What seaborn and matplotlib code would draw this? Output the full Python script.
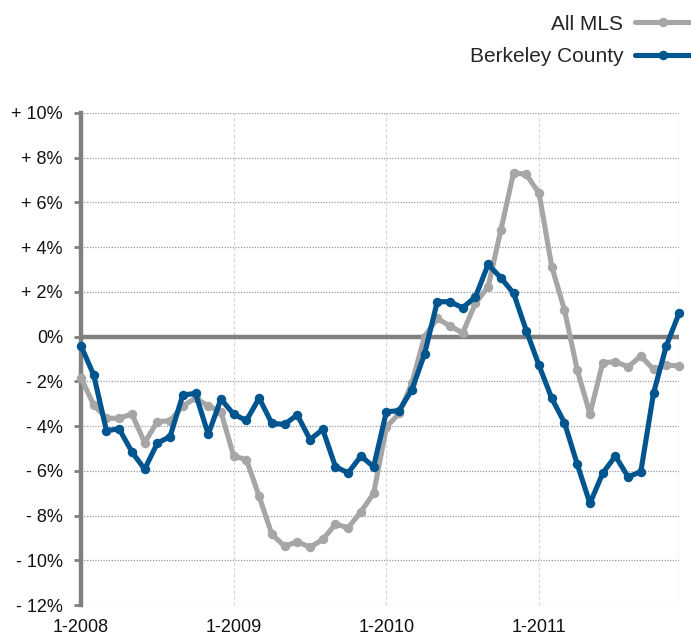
import matplotlib
matplotlib.use("Agg")
import matplotlib.pyplot as plt
import seaborn as sns
import pandas as pd
import numpy as np

# ---- data ----
tick_months = [0, 12, 24, 36]
tick_labels_x = ["1-2008", "1-2009", "1-2010", "1-2011"]
y_ticks = [10, 8, 6, 4, 2, 0, -2, -4, -6, -8, -10, -12]
y_tick_labels = ["+ 10%", "+ 8%", "+ 6%", "+ 4%", "+ 2%", "0%",
                 "- 2%", "- 4%", "- 6%", "- 8%", "- 10%", "- 12%"]
series_names = ["All MLS", "Berkeley County"]

all_mls = [-1.84, -3.06, -3.65, -3.65, -3.46, -4.74, -3.80, -3.76, -3.10, -2.75, -3.10, -3.36,
           -5.34, -5.50, -7.14, -8.84, -9.37, -9.17, -9.42, -9.07, -8.38, -8.55, -7.83, -7.01,
           -4.05, -3.43, -2.09, 0.00, 0.82, 0.47, 0.17, 1.49, 2.23, 4.77, 7.33, 7.25,
           6.41, 3.13, 1.19, -1.49, -3.46, -1.17, -1.12, -1.35, -0.87, -1.46, -1.27, -1.31]
berkeley = [-0.41, -1.72, -4.20, -4.13, -5.15, -5.93, -4.76, -4.47, -2.61, -2.54, -4.37, -2.79,
            -3.47, -3.75, -2.75, -3.88, -3.92, -3.50, -4.60, -4.15, -5.82, -6.09, -5.34, -5.82,
            -3.36, -3.31, -2.38, -0.78, 1.56, 1.56, 1.29, 1.78, 3.23, 2.63, 1.94, 0.27,
            -1.29, -2.76, -3.85, -5.70, -7.46, -6.11, -5.34, -6.27, -6.04, -2.52, -0.42, 1.04]

months = list(range(len(all_mls)))
df = pd.DataFrame({
    "month": months * 2,
    "value": all_mls + berkeley,
    "series": [series_names[0]] * len(all_mls) + [series_names[1]] * len(berkeley),
})

sns.set_style("white")
plt.rcParams["font.family"] = ["Liberation Sans", "DejaVu Sans"]

fig = plt.figure(figsize=(6.91, 6.36), dpi=100)
ax = fig.add_axes([81 / 691, 1 - 605 / 636, (679 - 81) / 691, (605 - 113) / 636])

palette = {"All MLS": "#a6a6a6", "Berkeley County": "#00558f"}

# grid
for y in y_ticks:
    if y == 0:
        continue
    ax.axhline(y, color="#999999", ls=(0, (1, 1.2)), lw=0.9, zorder=0)
for m in tick_months[1:]:
    ax.axvline(m, color="#d9d9d9", ls=(0, (3, 1.5)), lw=0.9, zorder=0)
ax.axvline(months[-1], color="#999999", ls=(0, (1, 1.2)), lw=0.9, zorder=0)
ax.axhline(0, color="#808080", lw=3.2, zorder=1)

sns.lineplot(data=df, x="month", y="value", hue="series", hue_order=series_names,
             palette=palette, marker="o", markersize=6.8, markeredgewidth=0,
             linewidth=3.7, sort=False, ax=ax, clip_on=False, zorder=3)

ax.set_xlim(0, months[-1])
ax.set_ylim(-12, 10)
ax.set_xlabel("")
ax.set_ylabel("")

ax.set_yticks(y_ticks)
ax.set_yticklabels(y_tick_labels, fontsize=13, color="#111111")
ax.set_xticks(tick_months)
ax.set_xticklabels(tick_labels_x, fontsize=13, color="#111111")
ax.tick_params(axis="y", length=5, width=2, color="#808080", pad=8, left=True)
ax.tick_params(axis="x", length=0, pad=10)

for s in ["top", "right", "bottom"]:
    ax.spines[s].set_visible(False)
ax.spines["left"].set_color("#808080")
ax.spines["left"].set_linewidth(3.2)

handles, labels = ax.get_legend_handles_labels()
if ax.get_legend() is not None:
    ax.get_legend().remove()
fig.legend(handles, labels, loc="upper right", bbox_to_anchor=(1.0, 0.977),
           markerfirst=False, frameon=False, fontsize=15, handlelength=2.7,
           handletextpad=0.55, labelspacing=0.66, borderaxespad=0, borderpad=0)

fig.savefig("out.png", dpi=100)
